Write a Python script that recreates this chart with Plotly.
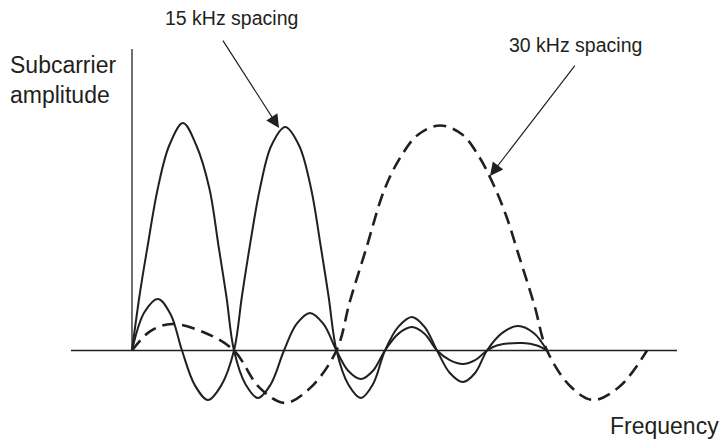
import plotly.graph_objects as go

# Frequency in units of the 15 kHz lobe width, amplitude normalised to the main lobe peak.

# 15 kHz subcarrier #1 (main lobe first)
freq_a = [0.0, 0.15, 0.3, 0.5, 0.72, 0.988, 1.25, 1.5, 1.68, 1.83, 1.977,
          2.2, 2.442, 2.69, 2.946,
          3.19, 3.45, 3.71, 3.963,
          4.19, 4.438, 4.67, 4.903,
          5.16, 5.426, 5.67, 5.911,
          6.16, 6.415, 6.65, 6.88,
          7.07, 7.578, 7.85, 8.043]
amp_a = [0.0, 0.25, 0.46, 0.72, 0.91, 1.011, 0.91, 0.72, 0.46, 0.24, 0.0,
         -0.15, -0.211, -0.15, 0.0,
         0.118, 0.167, 0.118, 0.0,
         -0.09, -0.127, -0.09, 0.0,
         0.074, 0.104, 0.074, 0.0,
         -0.043, -0.06, -0.043, 0.0,
         0.022, 0.033, 0.022, 0.0]

# 15 kHz subcarrier #2 (main lobe second)
freq_b = [0.0, 0.24, 0.504, 0.75, 0.969,
          1.22, 1.473, 1.73, 1.977,
          2.13, 2.28, 2.48, 2.7, 2.97, 3.24, 3.47, 3.66, 3.81, 3.963,
          4.19, 4.438, 4.67, 4.903,
          5.16, 5.426, 5.67, 5.911,
          6.16, 6.415, 6.65, 6.88,
          7.17, 7.481, 7.79, 8.043]
amp_b = [0.0, 0.17, 0.229, 0.16, 0.0,
         -0.155, -0.22, -0.155, 0.0,
         0.24, 0.46, 0.72, 0.91, 0.993, 0.91, 0.72, 0.46, 0.24, 0.0,
         -0.15, -0.211, -0.15, 0.0,
         0.105, 0.149, 0.105, 0.0,
         -0.1, -0.14, -0.1, 0.0,
         0.077, 0.109, 0.077, 0.0]

# 30 kHz subcarrier (dashed)
freq_c = [0.0, 0.35, 0.775, 1.4, 1.977,
          2.47, 2.965, 3.46, 3.963,
          4.225, 4.535, 4.9, 5.233, 5.55, 5.97,
          6.4, 6.73, 7.0, 7.25, 7.5, 7.8, 8.043,
          8.5, 8.934, 9.45, 9.981]
amp_c = [0.0, 0.085, 0.118, 0.08, 0.0,
         -0.165, -0.233, -0.165, 0.0,
         0.22, 0.45, 0.72, 0.87, 0.96, 1.0,
         0.96, 0.86, 0.74, 0.6, 0.42, 0.2, 0.0,
         -0.16, -0.22, -0.16, 0.0]

# Axis extents
freq_axis = [-1.182, 10.562]
amp_axis_top = 1.34

INK = "#231f20"
FONT = "Liberation Sans, Arial, Helvetica, sans-serif"

fig = go.Figure()

for f, a in ((freq_a, amp_a), (freq_b, amp_b)):
    fig.add_trace(go.Scatter(x=f, y=a, mode="lines",
                             line=dict(color=INK, width=2, shape="spline", smoothing=1.0),
                             hoverinfo="skip", showlegend=False))

fig.add_trace(go.Scatter(x=freq_c, y=amp_c, mode="lines",
                         line=dict(color=INK, width=2.6, dash="13px,7px",
                                   shape="spline", smoothing=1.0),
                         hoverinfo="skip", showlegend=False))

# Frequency axis and amplitude axis
fig.add_shape(type="line", x0=freq_axis[0], x1=freq_axis[1], y0=0, y1=0,
              line=dict(color=INK, width=1.3))
fig.add_shape(type="line", x0=0, x1=0, y0=0, y1=amp_axis_top,
              line=dict(color=INK, width=1.3))

labels = [
    dict(text="Subcarrier<br>amplitude", x=-2.403, y=1.204, xanchor="left", size=23),
    dict(text="Frequency", x=9.225, y=-0.336, xanchor="left", size=23),
    dict(text="15 kHz spacing", x=1.93, y=1.478, xanchor="center", size=19.5),
    dict(text="30 kHz spacing", x=8.595, y=1.358, xanchor="center", size=19.5),
]
for lb in labels:
    fig.add_annotation(text=lb["text"], x=lb["x"], y=lb["y"], xref="x", yref="y",
                       xanchor=lb["xanchor"], yanchor="middle", align="left",
                       showarrow=False, font=dict(family=FONT, size=lb["size"], color=INK))

arrows = [
    dict(tail=(1.744, 1.384), tip=(2.849, 0.989)),
    dict(tail=(8.605, 1.273), tip=(6.938, 0.776)),
]
for ar in arrows:
    fig.add_annotation(text="", x=ar["tip"][0], y=ar["tip"][1], ax=ar["tail"][0], ay=ar["tail"][1],
                       xref="x", yref="y", axref="x", ayref="y", showarrow=True,
                       arrowhead=2, arrowsize=2.2, arrowwidth=1.2, arrowcolor=INK)

fig.update_xaxes(range=[-2.558, 11.415], visible=False)
fig.update_yaxes(range=[-0.4067, 1.5578], visible=False)
fig.update_layout(width=721, height=442, margin=dict(l=0, r=0, t=0, b=0),
                  plot_bgcolor="white", paper_bgcolor="white")

fig.write_html("out.html")
